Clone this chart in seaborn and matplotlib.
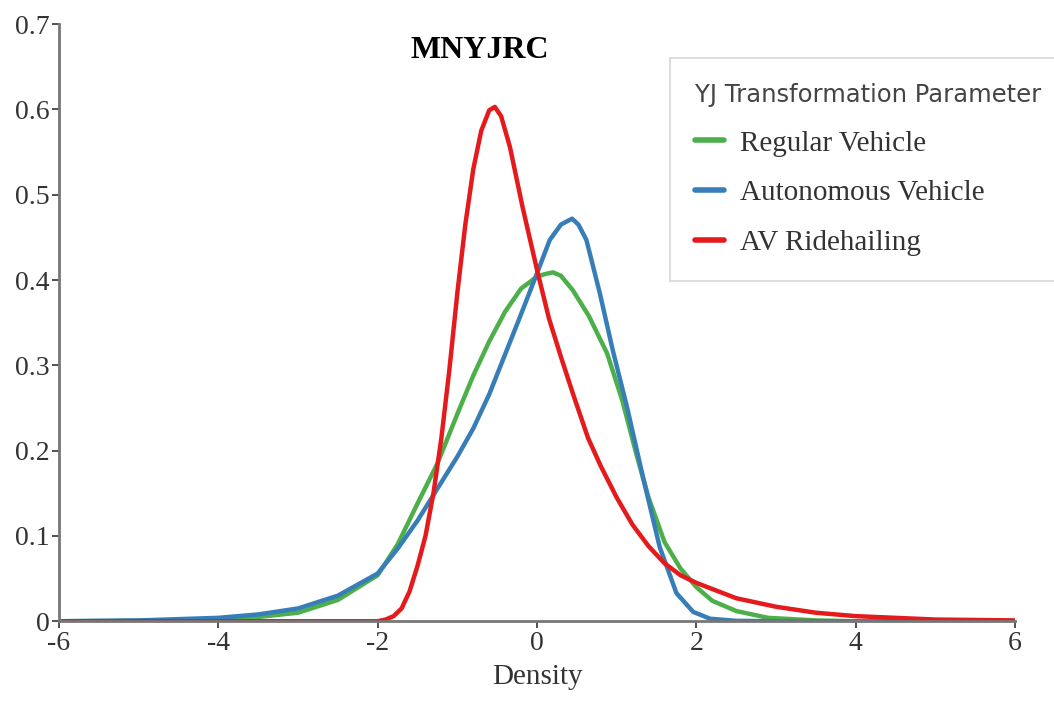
import numpy as np
import pandas as pd
import matplotlib
matplotlib.use("Agg")
import matplotlib.pyplot as plt
import seaborn as sns

# ---- data ----
regular_x = [-6, -5, -4, -3.5, -3, -2.5, -2, -1.75, -1.5, -1.25, -1.0, -0.8, -0.6, -0.4, -0.2,
             0, 0.1, 0.2, 0.3, 0.45, 0.65, 0.88, 1.07, 1.25, 1.4, 1.6, 1.8, 2.0, 2.2, 2.5, 2.9, 3.5, 4, 5, 6]
regular_y = [0, 0.0005, 0.002, 0.005, 0.010, 0.025, 0.054, 0.090, 0.138, 0.185, 0.243, 0.288, 0.328,
             0.363, 0.390, 0.404, 0.407, 0.409, 0.405, 0.388, 0.358, 0.314, 0.259, 0.195, 0.145, 0.093,
             0.062, 0.040, 0.024, 0.012, 0.004, 0.001, 0, 0, 0]

autonomous_x = [-6, -5, -4, -3.5, -3, -2.5, -2, -1.75, -1.5, -1.2, -1.0, -0.8, -0.6, -0.4, -0.2, 0, 0.16,
                0.3, 0.44, 0.52, 0.62, 0.79, 0.95, 1.13, 1.33, 1.54, 1.75, 1.96, 2.17, 2.5, 3, 4, 6]
autonomous_y = [0, 0.001, 0.004, 0.008, 0.015, 0.030, 0.056, 0.085, 0.118, 0.163, 0.193, 0.226, 0.266,
                0.313, 0.360, 0.408, 0.447, 0.465, 0.472, 0.465, 0.447, 0.384, 0.318, 0.251, 0.169, 0.087,
                0.033, 0.011, 0.003, 0.0005, 0, 0, 0]

ridehailing_x = [-6, -4, -2, -1.9, -1.8, -1.7, -1.6, -1.5, -1.4, -1.3, -1.2, -1.1, -1.0, -0.9, -0.8, -0.7,
                 -0.6, -0.53, -0.45, -0.34, -0.18, 0, 0.15, 0.3, 0.45, 0.64, 0.8, 1.0, 1.2, 1.4, 1.6, 1.8,
                 2.0, 2.5, 3.0, 3.5, 4.0, 5.0, 6.0]
ridehailing_y = [0, 0, 0, 0.002, 0.006, 0.015, 0.035, 0.065, 0.100, 0.150, 0.215, 0.295, 0.385, 0.465,
                 0.530, 0.575, 0.599, 0.603, 0.592, 0.556, 0.485, 0.412, 0.355, 0.310, 0.267, 0.215,
                 0.182, 0.145, 0.113, 0.088, 0.068, 0.054, 0.045, 0.027, 0.017, 0.010, 0.006, 0.002, 0.001]

series_names = ["Regular Vehicle", "Autonomous Vehicle", "AV Ridehailing"]
series_colors = ["#4daf4a", "#377eb8", "#e41a1c"]
x_ticks = [-6, -4, -2, 0, 2, 4, 6]
y_ticks = [0, 0.1, 0.2, 0.3, 0.4, 0.5, 0.6, 0.7]
y_tick_labels = ["0", "0.1", "0.2", "0.3", "0.4", "0.5", "0.6", "0.7"]

frames = []
for name, xs, ys in zip(series_names,
                        [regular_x, autonomous_x, ridehailing_x],
                        [regular_y, autonomous_y, ridehailing_y]):
    frames.append(pd.DataFrame({"x": xs, "density": ys, "series": name}))
df = pd.concat(frames, ignore_index=True)

sns.set_theme(style="white")
plt.rcParams["font.family"] = ["Liberation Serif", "DejaVu Serif"]
plt.rcParams["axes.unicode_minus"] = False

fig = plt.figure(figsize=(10.54, 7.10), dpi=100)
ax = fig.add_axes([0.056, 0.125, 0.907, 0.841])

sns.lineplot(data=df, x="x", y="density", hue="series", hue_order=series_names,
             palette=series_colors, estimator=None, linewidth=3.2, ax=ax, legend=False)

ax.set_xlim(-6, 6)
ax.set_ylim(0, 0.7)
ax.set_xticks(x_ticks)
ax.set_xticklabels([str(t) for t in x_ticks])
ax.set_yticks(y_ticks)
ax.set_yticklabels(y_tick_labels)
ax.tick_params(axis="both", labelsize=20, colors="#333333", length=5, width=1.2,
               direction="out", bottom=True, left=True, pad=2)
for lbl in ax.get_xticklabels() + ax.get_yticklabels():
    lbl.set_color("#333333")
ax.set_xlabel("Density", fontsize=21, color="#333333", labelpad=6)
ax.set_ylabel("")
for s in ["top", "right"]:
    ax.spines[s].set_visible(False)
for s in ["left", "bottom"]:
    ax.spines[s].set_color("#777777")
    ax.spines[s].set_linewidth(2)

fig.text(480 / 1054, 1 - 50 / 710, "MNYJRC", fontsize=23, fontweight="bold",
         ha="center", va="center", color="black")

handles = [plt.Line2D([], [], color=c, linewidth=4) for c in series_colors]
leg = fig.legend(handles, series_names, loc="upper left",
                 bbox_to_anchor=(670 / 1054, 1 - 58 / 710), borderaxespad=0, fontsize=21,
                 title="YJ Transformation Parameter", frameon=True, handlelength=1.0,
                 handletextpad=0.55, labelspacing=0.8, borderpad=0.85, fancybox=False,
                 alignment="left")
leg.get_title().set_fontfamily("DejaVu Sans")
leg.get_title().set_fontsize(17.5)
leg.get_title().set_color("#444444")
for t in leg.get_texts():
    t.set_color("#333333")
leg.get_frame().set_edgecolor("#cccccc")
leg.get_frame().set_linewidth(1.2)

fig.savefig("out.png", dpi=100)
